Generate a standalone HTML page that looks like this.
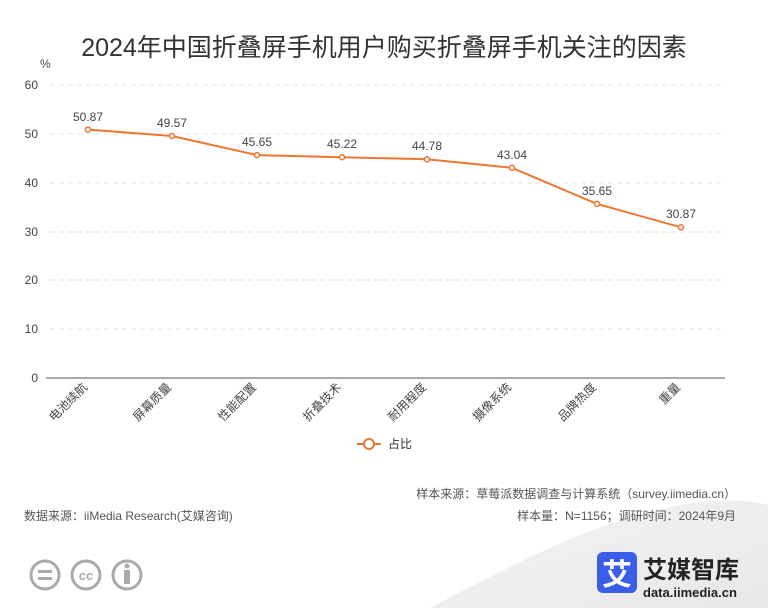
<!DOCTYPE html>
<html><head><meta charset="utf-8"><style>
body{margin:0;background:#fff;}
svg{display:block;font-family:"Liberation Sans","Noto Sans CJK SC",sans-serif;}
</style></head><body>
<svg width="768" height="608" viewBox="0 0 768 608">
<defs><linearGradient id="g" x1="0" y1="0" x2="1" y2="1"><stop offset="0" stop-color="#f4f4f4"/><stop offset="1" stop-color="#e8e8e8"/></linearGradient></defs>
<path d="M430 608 C520 560 600 520 680 505 C720 498 750 500 768 505 L768 608 Z" fill="url(#g)"/>
<text x="384" y="56" text-anchor="middle" font-size="25" fill="#333">2024年中国折叠屏手机用户购买折叠屏手机关注的因素</text>
<text x="40" y="68" font-size="12" fill="#444">%</text>
<g stroke="#e3e3e3" stroke-dasharray="5,4">
<line x1="50" y1="85" x2="725" y2="85"/><line x1="50" y1="134" x2="725" y2="134"/><line x1="50" y1="183" x2="725" y2="183"/><line x1="50" y1="232" x2="725" y2="232"/><line x1="50" y1="280" x2="725" y2="280"/><line x1="50" y1="329" x2="725" y2="329"/>
</g>
<line x1="46" y1="378" x2="725" y2="378" stroke="#555" stroke-width="1"/>
<g font-size="12" fill="#444" text-anchor="end">
<text x="38" y="89">60</text><text x="38" y="138">50</text><text x="38" y="187">40</text><text x="38" y="236">30</text><text x="38" y="284">20</text><text x="38" y="333">10</text><text x="38" y="382">0</text>
</g>
<polyline fill="none" stroke="#ee7631" stroke-width="2" points="88,129.6 172,136 257,155.1 342,157.2 427,159.3 512,167.8 597,203.9 681,227.3"/>
<g fill="#fff" stroke="#ee7631" stroke-width="1.5">
<circle cx="88" cy="129.6" r="2.5"/><circle cx="172" cy="136" r="2.5"/><circle cx="257" cy="155.1" r="2.5"/><circle cx="342" cy="157.2" r="2.5"/><circle cx="427" cy="159.3" r="2.5"/><circle cx="512" cy="167.8" r="2.5"/><circle cx="597" cy="203.9" r="2.5"/><circle cx="681" cy="227.3" r="2.5"/>
</g>
<g font-size="12" fill="#444" text-anchor="middle">
<text x="88" y="121">50.87</text><text x="172" y="127">49.57</text><text x="257" y="146">45.65</text><text x="342" y="148">45.22</text><text x="427" y="150">44.78</text><text x="512" y="159">43.04</text><text x="597" y="195">35.65</text><text x="681" y="218">30.87</text>
</g>
<g font-size="12" fill="#444" text-anchor="end">
<text transform="translate(88,388) rotate(-45)">电池续航</text>
<text transform="translate(172,388) rotate(-45)">屏幕质量</text>
<text transform="translate(257,388) rotate(-45)">性能配置</text>
<text transform="translate(342,388) rotate(-45)">折叠技术</text>
<text transform="translate(427,388) rotate(-45)">耐用程度</text>
<text transform="translate(512,388) rotate(-45)">摄像系统</text>
<text transform="translate(597,388) rotate(-45)">品牌热度</text>
<text transform="translate(681,388) rotate(-45)">重量</text>
</g>
<line x1="357" y1="444" x2="381" y2="444" stroke="#ee7631" stroke-width="2"/>
<circle cx="369" cy="444" r="5" fill="#fff" stroke="#ee7631" stroke-width="2"/>
<text x="388" y="448" font-size="12" fill="#333">占比</text>
<g font-size="12" fill="#555">
<text x="736" y="498" text-anchor="end">样本来源：草莓派数据调查与计算系统（survey.iimedia.cn）</text>
<text x="736" y="520" text-anchor="end">样本量：N=1156；调研时间：2024年9月</text>
<text x="24" y="520">数据来源：iiMedia Research(艾媒咨询)</text>
</g>
<g fill="none" stroke="#aaa" stroke-width="3">
<circle cx="45" cy="575" r="14"/><circle cx="86" cy="575" r="14"/><circle cx="127" cy="575" r="14"/>
</g>
<g fill="#aaa"><rect x="38" y="570" width="14" height="3"/><rect x="38" y="577" width="14" height="3"/><circle cx="127" cy="566" r="2.5"/><rect x="124" y="570" width="6" height="14"/></g>
<text x="86" y="580" font-size="13" font-weight="bold" fill="#aaa" text-anchor="middle">cc</text>
<rect x="597" y="552" width="40" height="41" rx="6" fill="#3a5ee8"/>
<text x="617" y="585" font-size="30" font-weight="bold" fill="#fff" text-anchor="middle">艾</text>
<text x="643" y="578" font-size="24" font-weight="bold" fill="#222">艾媒智库</text>
<text x="643" y="597" font-size="13" font-weight="bold" fill="#222">data.iimedia.cn</text>
</svg>
</body></html>
